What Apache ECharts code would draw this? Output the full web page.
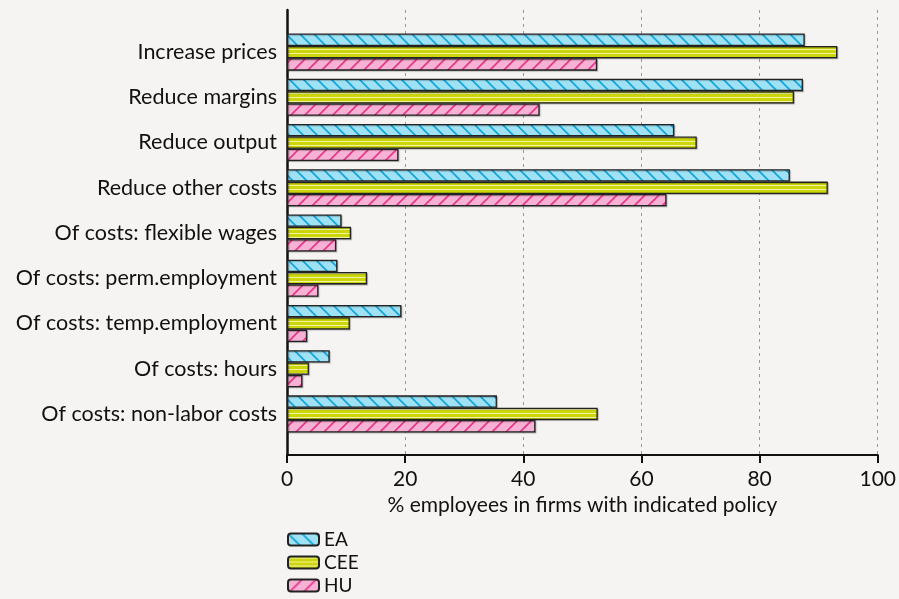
<!DOCTYPE html>
<html>
<head>
<meta charset="utf-8">
<script src="https://cdn.jsdelivr.net/npm/echarts@6/dist/echarts.min.js"></script>
<style>
html,body{margin:0;padding:0;background:#f5f4f2;}
#chart{width:899px;height:599px;}
</style>
</head>
<body>
<div id="chart"></div>
<script>
const categories = [
  'Increase prices',
  'Reduce margins',
  'Reduce output',
  'Reduce other costs',
  'Of costs: flexible wages',
  'Of costs: perm.employment',
  'Of costs: temp.employment',
  'Of costs: hours',
  'Of costs: non-labor costs'
];
const seriesNames = ['EA', 'CEE', 'HU'];
const eaValues  = [87.3, 87.0, 65.3, 84.8, 9.2, 8.5, 19.3, 7.2, 35.4];
const ceeValues = [92.8, 85.5, 69.1, 91.2, 10.8, 13.5, 10.6, 3.7, 52.4];
const huValues  = [52.3, 42.6, 18.8, 64.0, 8.3, 5.3, 3.4, 2.6, 41.9];
const xTicks = [0, 20, 40, 60, 80, 100];

const FONT = 'Lato';

function diagPattern(bg, fg, dir) {
  const s = 14;
  const c = document.createElement('canvas');
  c.width = s; c.height = s;
  const g = c.getContext('2d');
  g.fillStyle = bg; g.fillRect(0, 0, s, s);
  g.strokeStyle = fg; g.lineWidth = 1.7;
  g.beginPath();
  if (dir === 'back') {
    g.moveTo(-2, -2); g.lineTo(s + 2, s + 2);
    g.moveTo(s - 2, -2); g.lineTo(s + 2, 2);
    g.moveTo(-2, s - 2); g.lineTo(2, s + 2);
  } else {
    g.moveTo(-2, s + 2); g.lineTo(s + 2, -2);
    g.moveTo(-2, 2); g.lineTo(2, -2);
    g.moveTo(s - 2, s + 2); g.lineTo(s + 2, s - 2);
  }
  g.stroke();
  return c;
}
function horizPattern(bg, fg) {
  const c = document.createElement('canvas');
  c.width = 4; c.height = 4;
  const g = c.getContext('2d');
  g.fillStyle = bg; g.fillRect(0, 0, 4, 4);
  g.fillStyle = fg; g.fillRect(0, 1, 4, 1);
  return c;
}

const fills = [
  { image: diagPattern('#9fe2f5', '#15a5d8', 'back'), repeat: 'repeat' },
  { image: horizPattern('#ccd60a', '#f0f3a0'), repeat: 'repeat' },
  { image: diagPattern('#f7b1d4', '#e5388a', 'fwd'), repeat: 'repeat' }
];
const values = [eaValues, ceeValues, huValues];

const chart = echarts.init(document.getElementById('chart'));
const option = {
  backgroundColor: '#f5f4f2',
  animation: false,
  textStyle: { fontFamily: FONT },
  grid: [
    { left: 287, right: 19, top: 29.5, height: 407 },
    { left: 287, right: 19, top: 10, bottom: 144 }
  ],
  xAxis: [
    { gridIndex: 0, type: 'value', min: 0, max: 100, show: false },
    {
      gridIndex: 1, type: 'value', min: 0, max: 100, interval: 20,
      axisLine: { show: true, lineStyle: { color: '#111', width: 2 } },
      axisTick: { show: true, length: 8, lineStyle: { color: '#111', width: 2 } },
      axisLabel: {
        fontSize: 21, color: '#111', margin: 14, fontFamily: FONT,
        formatter: function (v) { return xTicks.indexOf(v) >= 0 ? String(v) : ''; }
      },
      splitLine: { show: true, lineStyle: { color: '#999', type: [3, 4], width: 1 } },
      name: '% employees in firms with indicated policy',
      nameLocation: 'middle', nameGap: 40,
      nameTextStyle: { fontSize: 21, color: '#111', fontFamily: FONT }
    }
  ],
  yAxis: [
    {
      gridIndex: 0, type: 'category', data: categories, inverse: true,
      axisLine: { show: false }, axisTick: { show: false },
      axisLabel: { fontSize: 21.5, color: '#111', margin: 10, fontFamily: FONT }
    },
    {
      gridIndex: 1, type: 'value', min: 0, max: 1,
      axisLine: { show: true, lineStyle: { color: '#111', width: 2.5 } },
      axisTick: { show: false }, axisLabel: { show: false }, splitLine: { show: false }
    }
  ],
  legend: {
    orient: 'vertical', left: 287, top: 528, padding: 0,
    itemWidth: 31, itemHeight: 12, itemGap: 0,
    textStyle: { fontSize: 19, lineHeight: 23, color: '#111', fontFamily: FONT },
    data: seriesNames
  },
  series: seriesNames.map(function (name, i) {
    return {
      name: name, type: 'bar', xAxisIndex: 0, yAxisIndex: 0,
      data: values[i],
      barGap: '0%', barCategoryGap: '18%',
      itemStyle: {
        color: fills[i], borderColor: '#222', borderWidth: 1.3,
        shadowColor: 'rgba(0,0,0,0.25)', shadowOffsetX: 1, shadowOffsetY: 1, shadowBlur: 1
      }
    };
  })
};
chart.setOption(option);
</script>
</body>
</html>
